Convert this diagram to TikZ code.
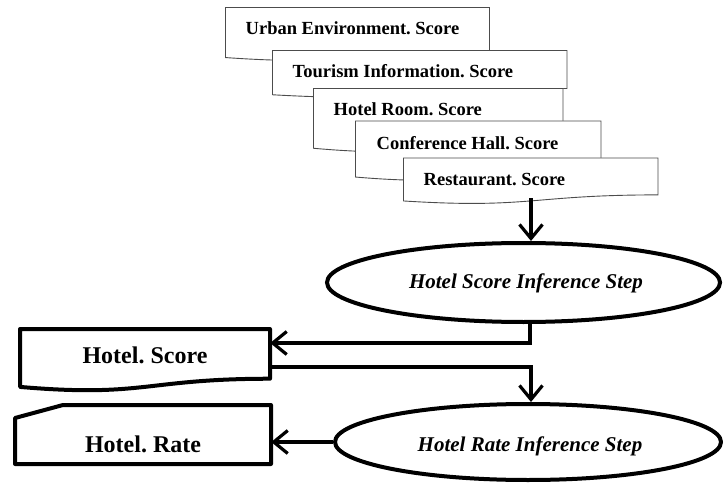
\documentclass[tikz,border=0pt]{standalone}
\usepackage{fontspec}
\setmainfont{Liberation Serif}
\usetikzlibrary{arrows.meta,shapes.geometric,calc}
\frenchspacing

% document symbol: top-left x, top y, width, full height, style
\newcommand{\docshape}[5]{%
  \filldraw[#5] (#1,#2) -- (#1+#3,#2) -- (#1+#3,#2+0.802*#4)
    .. controls (#1+0.5*#3,#2+0.802*#4) and (#1+0.5*#3,#2+1.1075*#4) ..
    (#1,#2+0.934*#4) -- cycle;}

\tikzset{
  thinshape/.style={draw=black!70,fill=white,line width=0.9pt},
  thickshape/.style={draw=black,fill=white,line width=4pt,line join=round},
  doctext/.style={anchor=west,inner sep=0pt,font=\fontsize{18.5}{20}\selectfont\bfseries},
  bigtext/.style={inner sep=0pt,font=\fontsize{24}{27}\selectfont\bfseries},
  stepell/.style={ellipse,draw,line width=4pt,fill=white,inner sep=0pt},
  steptext/.style={inner sep=0pt,font=\fontsize{21}{24}\selectfont\bfseries\itshape},
  conn/.style={line width=3.5pt,-{Straight Barb[length=14pt,width=23pt,line width=3.2pt]}},
}

\begin{document}
\begin{tikzpicture}[x=1pt,y=-1pt]
\useasboundingbox (0,0) rectangle (723,484);

% stacked input documents, back to front
\docshape{225.5}{7.5}{264}{53.6}{thinshape}
\node[doctext] (urban) at (245.5,28.5) {Urban Environment. Score};
\docshape{272.5}{50.5}{294.5}{47.4}{thinshape}
\node[doctext] (tourism) at (292.5,71.5) {Tourism Information. Score};
\docshape{313.5}{88.5}{249.5}{64}{thinshape}
\node[doctext] (room) at (333.5,109.5) {Hotel Room. Score};
\docshape{355.5}{121}{245.5}{60}{thinshape}
\node[doctext] (hall) at (376.5,143.5) {Conference Hall. Score};
\docshape{403.5}{158}{254.5}{46}{thinshape}
\node[doctext] (rest) at (423.5,179.5) {Restaurant. Score};
\coordinate (restbot) at (531,198);

% inference steps
\node[stepell,minimum width=393pt,minimum height=79pt] (hsi) at (523.5,282.5) {};
\node[steptext] (hsitext) at (526,283) {Hotel Score Inference Step};
\node[stepell,minimum width=386pt,minimum height=76pt] (hri) at (528,442) {};
\node[steptext] (hritext) at (530,446) {Hotel Rate Inference Step};

% outputs
\docshape{20}{329}{250}{62}{thickshape}
\node[bigtext,minimum width=250pt] (hscore) at (145,355) {Hotel. Score};
\draw[thickshape] (15,418) -- (63,405) -- (271,405) -- (271,464) -- (15,464) -- cycle;
\node[bigtext,minimum width=256pt] (hrate) at (143,444) {Hotel. Rate};

% connectors
\draw[conn] (restbot) -- (restbot |- hsi.north);
\draw[conn] ([xshift=6.5pt]hsi.south) |- ([yshift=12pt]hscore.east);
\draw[conn] ([yshift=-12pt]hscore.east) -| ([xshift=3pt]hri.north);
\draw[conn] (hri.west) -- (hri.west -| hrate.east);
\end{tikzpicture}
\end{document}
